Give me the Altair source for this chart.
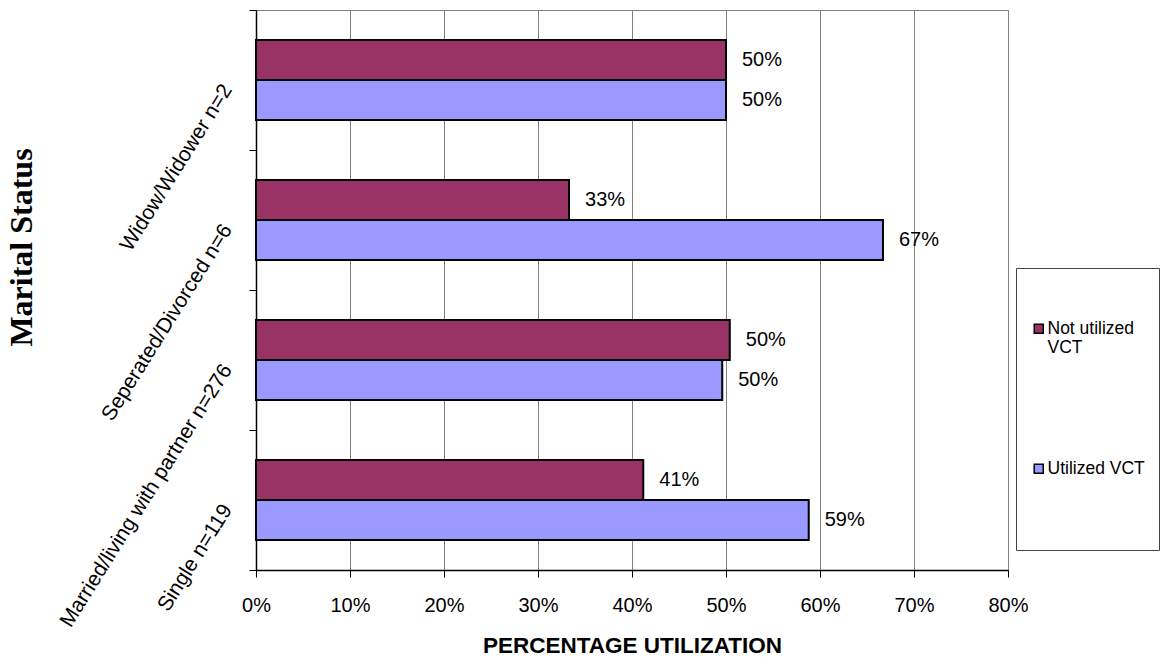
import altair as alt
import pandas as pd

# ---- data ----
statuses = [
    "Widow/Widower n=2",
    "Seperated/Divorced n=6",
    "Married/living with partner n=276",
    "Single n=119",
]
series = ["Not utilized VCT", "Utilized VCT"]
not_utilized = [0.50, 0.333, 0.504, 0.412]
utilized = [0.50, 0.667, 0.496, 0.588]
x_ticks = [0.0, 0.1, 0.2, 0.3, 0.4, 0.5, 0.6, 0.7, 0.8]
colors = ["#993366", "#9999FF"]

rows = []
for s, a, b in zip(statuses, not_utilized, utilized):
    rows.append({"status": s, "series": series[0], "value": a})
    rows.append({"status": s, "series": series[1], "value": b})
df = pd.DataFrame(rows)

FONT = "Liberation Sans, Arial, sans-serif"
SERIF = "Liberation Serif, Times New Roman, serif"

y_enc = alt.Y(
    "status:N",
    sort=statuses,
    scale=alt.Scale(paddingInner=0, paddingOuter=0),
    axis=alt.Axis(
        title="Marital Status",
        titleFont=SERIF,
        titleFontSize=32,
        titleFontWeight="bold",
        titleColor="black",
        titleAngle=270,
        titleX=-235,
        titleY=237,
        titleAlign="center",
        titleBaseline="middle",
        labelFont=FONT,
        labelFontSize=21,
        labelColor="black",
        labelAngle=302,
        labelAlign="right",
        labelBaseline="middle",
        labelPadding=22,
        labelOffset=6,
        labelLimit=0,
        tickBand="extent",
        tickSize=7,
        tickColor="black",
        domainColor="black",
        domainWidth=1.5,
        grid=False,
    ),
)
yoff_enc = alt.YOffset(
    "series:N", sort=series, scale=alt.Scale(paddingInner=0, paddingOuter=0.75)
)
x_enc = alt.X(
    "value:Q",
    scale=alt.Scale(domain=[0, 0.8], nice=False, zero=True),
    axis=alt.Axis(
        values=x_ticks,
        format=".0%",
        labelFont=FONT,
        labelFontSize=20,
        labelColor="black",
        labelPadding=18,
        labelFlush=False,
        labelOverlap=False,
        tickSize=7,
        tickColor="black",
        domainColor="black",
        domainWidth=1.5,
        grid=True,
        gridColor="#808080",
        gridWidth=1,
        title="PERCENTAGE UTILIZATION",
        titleFont=FONT,
        titleFontSize=22.5,
        titleFontWeight="bold",
        titleColor="black",
        titleY=82,
        titleBaseline="alphabetic",
    ),
)

bars = alt.Chart(df).mark_bar(stroke="black", strokeWidth=2).encode(
    x=x_enc,
    y=y_enc,
    yOffset=yoff_enc,
    color=alt.Color(
        "series:N",
        scale=alt.Scale(domain=series, range=colors),
        legend=alt.Legend(
            orient="none",
            legendX=760,
            legendY=258,
            title=" ",
            titleFontSize=10,
            titlePadding=28,
            padding=14,
            rowPadding=102,
            strokeColor="#444444",
            fillColor="white",
            labelFont=FONT,
            labelFontSize=17.5,
            labelColor="black",
            labelOffset=0,
            labelBaseline="middle",
            labelLimit=300,
            labelExpr="datum.label == 'Not utilized VCT' ? ['Not utilized', 'VCT'] : [datum.label, '', '', '']",
            symbolType="square",
            symbolSize=81,
            symbolStrokeColor="black",
            symbolStrokeWidth=1.5,
        ),
    ),
)

labels = alt.Chart(df).mark_text(
    align="left", baseline="middle", dx=16, fontSize=20, font=FONT, color="black"
).encode(
    x=alt.X("value:Q"),
    y=alt.Y("status:N", sort=statuses),
    yOffset=alt.YOffset("series:N", sort=series),
    text=alt.Text("value:Q", format=".0%"),
)

chart = (
    alt.layer(bars, labels)
    .properties(
        width=752,
        height=560,
        autosize="none",
        padding={"left": 256, "top": 10, "right": 152, "bottom": 87},
        background="white",
    )
    .configure_view(stroke="#808080", strokeWidth=1)
)

chart.save("out.html", embed_options={"renderer": "svg", "actions": False})
